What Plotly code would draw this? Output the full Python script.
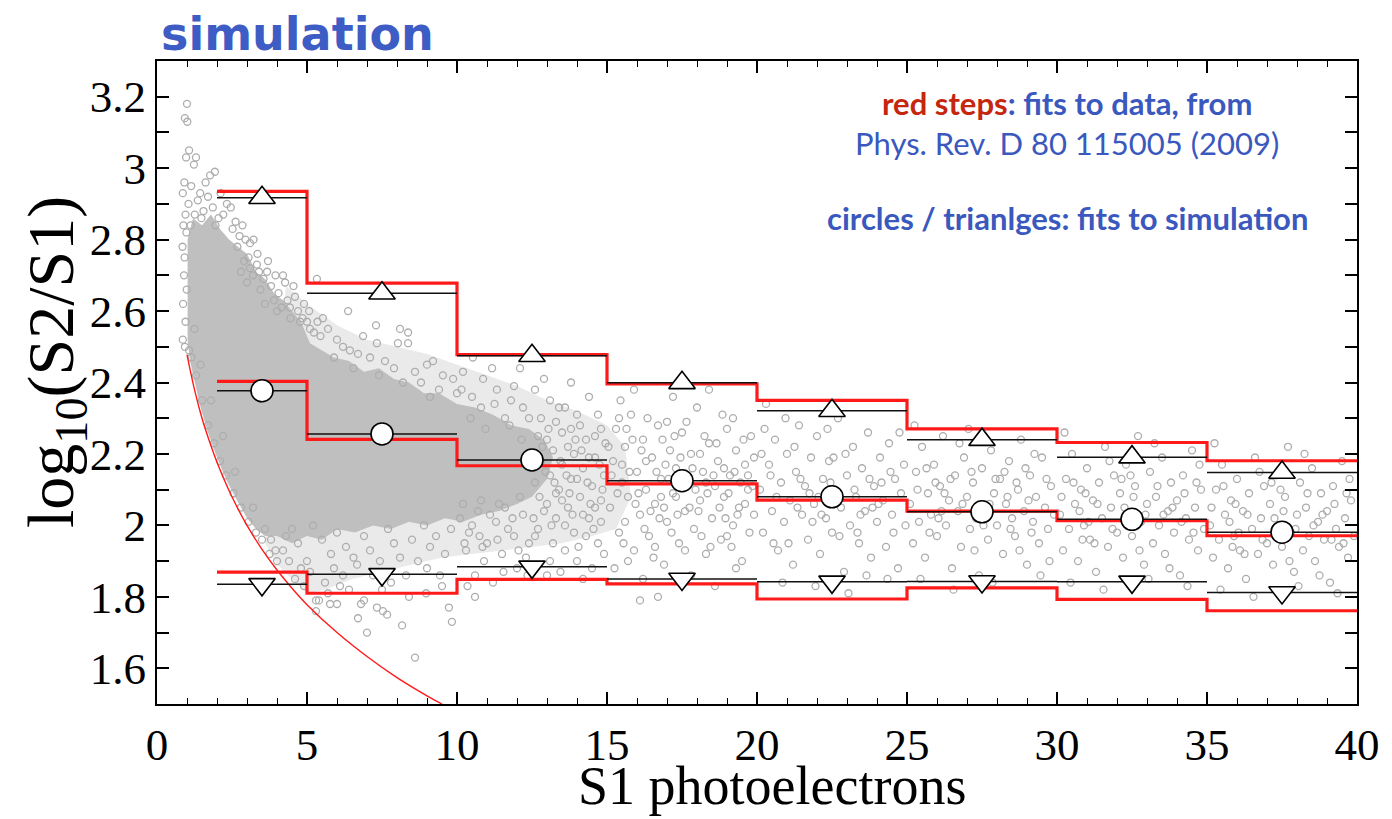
import plotly.graph_objects as go

# ---------------------------------------------------------------- data
BIN_EDGES = [2, 5, 10, 15, 20, 25, 30, 35, 40]
BIN_CENTERS = [3.5, 7.5, 12.5, 17.5, 22.5, 27.5, 32.5, 37.5]

# red steps: band fits to measured data
data_upper = [2.935, 2.678, 2.478, 2.396, 2.350, 2.270, 2.232, 2.181]
data_mean = [2.403, 2.241, 2.167, 2.116, 2.071, 2.040, 2.013, 1.971]
data_lower = [1.869, 1.810, 1.849, 1.836, 1.794, 1.825, 1.793, 1.761]

# circles / triangles: band fits to the simulated events
sim_upper = [2.917, 2.650, 2.475, 2.399, 2.321, 2.240, 2.191, 2.148]
sim_mean = [2.377, 2.256, 2.183, 2.125, 2.080, 2.038, 2.017, 1.981]
sim_lower = [1.835, 1.863, 1.884, 1.850, 1.842, 1.843, 1.842, 1.812]

# S2 threshold curve
thr_s1 = [1.0, 1.25, 1.5, 1.75, 2.0, 2.5, 3.0, 3.5, 4.0, 4.5, 5.0, 6.0, 7.0, 8.0, 9.0, 9.5]
thr_log = [2.478, 2.380, 2.300, 2.235, 2.177, 2.080, 2.000, 1.933, 1.875, 1.824,
           1.778, 1.700, 1.633, 1.574, 1.523, 1.500]

# outline of the saturated core of the simulated event cloud
core_s1 = [1.02, 1.2, 1.5, 1.8, 2.1, 2.4, 2.7, 3.0, 3.3, 3.6, 3.9, 4.2, 4.5, 4.8, 5.1,
           5.5, 5.9, 6.4, 6.9, 7.4, 7.9, 8.4, 8.9, 9.4, 10.0, 10.6, 11.2, 11.8, 12.4,
           12.9, 13.2, 13.0, 12.5, 12.0, 11.4, 10.8, 10.2, 9.6, 9.0, 8.4, 7.8, 7.2, 6.6,
           6.0, 5.5, 5.0, 4.5, 4.0, 3.6, 3.3, 3.0, 2.6, 2.3, 2.0, 1.7, 1.45, 1.25, 1.1,
           1.02]
core_log = [2.80, 2.86, 2.84, 2.87, 2.83, 2.80, 2.78, 2.76, 2.71, 2.69, 2.65, 2.63, 2.60,
            2.57, 2.51, 2.49, 2.47, 2.46, 2.43, 2.44, 2.41, 2.40, 2.37, 2.37, 2.34, 2.33,
            2.31, 2.28, 2.27, 2.24, 2.19, 2.13, 2.08, 2.06, 2.04, 2.03, 2.01, 2.02, 2.00,
            2.01, 1.99, 2.00, 1.98, 1.99, 1.96, 1.97, 1.95, 1.97, 1.97, 1.99, 2.02, 2.08,
            2.13, 2.19, 2.26, 2.33, 2.40, 2.46, 2.52]

# outline of the looser halo around the core
halo_s1 = [3.6, 4.0, 4.5, 5.0, 5.6, 6.5, 7.5, 8.5, 9.5, 10.5, 11.5, 12.5, 13.5, 14.5,
           15.3, 15.8, 15.6, 15.0, 14.0, 13.0, 12.0, 11.0, 10.0, 9.0, 8.0, 7.0, 6.0, 5.0,
           4.3]
halo_log = [1.95, 1.89, 1.85, 1.81, 1.82, 1.85, 1.87, 1.89, 1.91, 1.92, 1.93, 1.94, 1.95,
            1.97, 1.99, 2.08, 2.22, 2.28, 2.32, 2.35, 2.39, 2.42, 2.45, 2.48, 2.50, 2.52,
            2.56, 2.62, 2.67]

# individual simulated events (S1, log10(S2/S1))
cloud_top = [
    (0.93, 3.14), (1.00, 3.18), (1.01, 3.13), (1.07, 3.05), (0.97, 3.03), (1.30, 3.03),
    (1.23, 3.01), (1.93, 2.99), (1.77, 2.98), (0.86, 2.93), (0.91, 2.96), (1.14, 2.95),
    (1.44, 2.93), (1.62, 2.96), (1.05, 2.90), (0.95, 2.87), (1.36, 2.91), (1.70, 2.92),
    (2.12, 2.93), (1.86, 2.89), (2.33, 2.90), (1.26, 2.87), (0.88, 2.84), (1.55, 2.88),
    (2.21, 2.87), (2.46, 2.89), (2.62, 2.85), (2.75, 2.81), (2.95, 2.80), (3.10, 2.79),
    (3.22, 2.80), (2.85, 2.84), (2.05, 2.86), (0.85, 2.78), (0.90, 2.70), (0.87, 2.62),
    (0.95, 2.57), (0.92, 2.75), (0.99, 2.66), (0.86, 2.52), (0.93, 2.50), (1.07, 2.49),
    (0.98, 2.82), (1.12, 2.84), (1.48, 2.86), (1.95, 2.84), (2.52, 2.83), (2.68, 2.78),
    (3.35, 2.76), (3.05, 2.75),
]
cloud_edge = [
    (3.33, 2.73), (3.10, 2.72), (3.67, 2.71), (4.20, 2.70), (4.27, 2.68), (3.90, 2.63),
    (4.43, 2.61), (4.90, 2.62), (5.07, 2.60), (4.77, 2.57), (5.10, 2.55), (5.23, 2.54),
    (3.55, 2.69), (3.80, 2.67), (4.05, 2.65), (4.60, 2.64), (3.45, 2.66), (4.35, 2.63),
    (4.70, 2.60), (5.35, 2.57), (3.95, 2.70), (4.55, 2.67), (3.70, 2.74), (3.20, 2.70),
    (4.15, 2.61), (4.85, 2.58), (5.45, 2.53), (5.00, 2.57), (4.45, 2.58), (3.60, 2.62),
    (2.90, 2.74), (3.00, 2.68), (2.80, 2.71), (3.40, 2.71), (4.00, 2.60),
    (1.15, 2.47), (1.30, 2.42), (1.50, 2.35), (1.70, 2.28), (1.90, 2.23), (2.10, 2.18),
    (2.30, 2.14), (2.55, 2.09), (2.80, 2.05), (3.05, 2.01), (3.30, 1.98), (3.50, 1.96),
    (3.75, 1.92), (4.00, 1.90), (1.25, 2.55), (1.45, 2.45), (1.80, 2.35), (2.20, 2.25),
    (2.60, 2.15), (3.20, 2.05),
]
cloud_upper = [
    (5.33, 2.69), (6.37, 2.60), (5.53, 2.58), (7.30, 2.56), (8.10, 2.55), (8.37, 2.54),
    (8.03, 2.51), (8.37, 2.51), (6.87, 2.53), (6.00, 2.52), (6.43, 2.49), (7.33, 2.51),
    (9.20, 2.46), (9.00, 2.45), (9.53, 2.42), (10.53, 2.47), (11.17, 2.44), (9.87, 2.41),
    (10.20, 2.43), (10.87, 2.41), (11.33, 2.38), (5.70, 2.55), (6.20, 2.50), (6.70, 2.48),
    (7.10, 2.47), (7.60, 2.46), (7.90, 2.44), (8.60, 2.43), (8.80, 2.40), (9.40, 2.38),
    (10.00, 2.37), (10.50, 2.36), (11.80, 2.35), (12.20, 2.33), (12.60, 2.38), (13.10, 2.35),
    (12.90, 2.41), (13.60, 2.33), (5.90, 2.47), (6.55, 2.44), (7.40, 2.42), (8.20, 2.40),
    (9.10, 2.36), (11.60, 2.30), (12.40, 2.30), (13.30, 2.29), (14.00, 2.31), (14.40, 2.36),
    (14.80, 2.27), (13.80, 2.40), (12.10, 2.44), (11.90, 2.39), (10.80, 2.33),
]
cloud_lower = [
    (8.60, 1.63), (7.00, 1.70), (6.70, 1.74), (5.30, 1.76), (5.77, 1.78), (6.00, 1.78),
    (8.17, 1.72), (9.83, 1.73), (9.73, 1.77), (10.60, 1.80), (5.30, 1.79), (7.67, 1.75),
    (7.53, 1.76), (8.97, 1.81), (6.80, 1.78), (6.90, 1.79), (7.33, 1.77), (5.40, 1.79),
    (9.00, 1.88), (9.43, 1.86), (6.67, 1.89), (7.43, 1.90), (4.60, 1.85), (4.90, 1.83),
    (5.10, 1.87), (5.60, 1.84), (6.20, 1.86), (6.40, 1.82), (7.80, 1.84), (8.30, 1.86),
    (8.70, 1.90), (9.60, 1.92), (5.00, 1.90), (5.80, 1.92), (6.30, 1.94), (7.10, 1.93),
    (7.90, 1.95), (8.50, 1.96), (9.30, 1.97), (4.40, 1.90), (4.20, 1.93), (4.70, 1.95),
    (3.80, 1.96), (3.60, 1.99), (5.50, 1.96), (6.00, 1.98), (6.90, 1.97), (7.70, 1.99),
    (8.90, 2.00), (9.80, 1.99), (4.50, 1.99), (5.20, 2.00), (3.95, 1.93), (5.90, 1.88),
    (7.20, 1.86), (8.10, 1.91), (9.10, 1.94), (6.55, 1.91), (4.80, 1.88), (4.30, 1.97),
    (7.50, 1.82), (8.40, 1.80), (6.10, 1.83), (9.50, 1.83), (5.70, 1.81),
]
cloud_10_15 = [
    (10.1, 2.02), (10.4, 1.98), (10.7, 2.04), (11.0, 1.95), (11.3, 2.01), (11.6, 2.05),
    (11.9, 1.97), (12.2, 2.03), (10.3, 1.93), (10.9, 1.90), (11.5, 1.92), (12.0, 1.88),
    (10.6, 1.86), (11.2, 1.84), (12.4, 1.95), (10.2, 2.06), (10.8, 2.07), (11.4, 2.06),
    (12.1, 2.08), (10.5, 2.00), (11.7, 1.99), (11.1, 2.03), (12.3, 1.91), (13.0, 1.86),
    (12.7, 1.99), (12.6, 2.12), (12.8, 2.18), (12.7, 2.25), (13.0, 2.06), (13.1, 2.14),
    (13.2, 2.21), (13.3, 2.02), (13.4, 2.10), (13.5, 2.17), (13.5, 2.26), (13.7, 2.05),
    (13.8, 2.13), (13.9, 2.20), (13.9, 1.98), (14.1, 2.08), (14.2, 2.16), (14.3, 2.24),
    (14.4, 2.02), (14.5, 2.11), (14.6, 2.19), (14.7, 1.95), (14.8, 2.07), (14.9, 2.14),
    (14.95, 2.23), (13.6, 1.93), (14.0, 1.90), (14.5, 1.88), (13.2, 1.95), (12.9, 2.04),
    (13.6, 2.00), (14.3, 1.97), (14.8, 2.01), (12.8, 2.30), (13.4, 2.33), (14.1, 2.28),
    (14.7, 2.31), (13.0, 2.24), (13.8, 2.27), (14.4, 2.19), (13.3, 2.09), (14.0, 2.13),
    (14.6, 2.05), (12.6, 1.97), (13.1, 1.90), (14.2, 1.85), (14.9, 1.92), (13.7, 2.22),
    (14.2, 2.03), (13.5, 2.07), (12.75, 2.08), (14.6, 2.25),
    (10.15, 2.38), (10.45, 2.30), (10.95, 2.27), (11.25, 2.34), (11.75, 2.28), (12.15, 2.24),
    (12.45, 2.20), (13.05, 2.27), (13.45, 2.18), (13.95, 2.24), (14.35, 2.12), (14.75, 2.17),
    (14.15, 2.21), (13.65, 2.14), (13.25, 2.12), (12.95, 2.15), (12.85, 2.22), (13.75, 2.09),
    (14.45, 2.06), (14.85, 2.10), (10.25, 1.95), (10.75, 1.97), (11.35, 1.96), (11.85, 2.02),
    (12.55, 2.02), (13.15, 2.00), (13.85, 2.03), (14.55, 1.99), (12.35, 1.86), (11.55, 1.87),
    (10.35, 1.83), (13.45, 1.87), (14.05, 1.94), (12.05, 1.93), (10.85, 1.94),
]
cloud_15_20 = [
    (15.1, 2.05), (15.2, 2.18), (15.3, 2.27), (15.4, 1.98), (15.5, 2.12), (15.6, 2.22),
    (15.7, 2.08), (15.8, 2.31), (15.9, 1.93), (16.0, 2.15), (16.1, 2.03), (16.2, 2.24),
    (16.3, 2.10), (16.4, 1.97), (16.5, 2.19), (16.6, 2.06), (16.7, 2.28), (16.8, 2.13),
    (16.9, 1.89), (17.0, 2.01), (17.1, 2.21), (17.2, 2.09), (17.3, 2.16), (17.4, 1.95),
    (17.5, 2.26), (17.6, 2.04), (17.7, 2.12), (17.8, 2.20), (17.9, 1.99), (18.0, 2.33),
    (18.1, 2.07), (18.2, 2.15), (18.3, 1.92), (18.4, 2.23), (18.5, 2.02), (18.6, 2.11),
    (18.7, 2.18), (18.8, 1.96), (18.9, 2.08), (19.0, 2.27), (19.1, 2.14), (19.2, 2.00),
    (19.3, 2.21), (19.4, 2.05), (19.5, 1.90), (19.6, 2.17), (19.7, 2.10), (19.8, 2.25),
    (19.9, 2.03), (15.25, 1.88), (15.45, 2.35), (15.75, 2.15), (16.05, 2.09), (16.35, 2.30),
    (16.55, 1.91), (16.85, 2.24), (17.05, 2.13), (17.35, 2.03), (17.65, 2.29), (17.95, 2.10),
    (18.25, 2.25), (18.55, 2.14), (18.85, 2.31), (19.15, 1.94), (19.45, 2.12), (19.75, 1.98),
    (15.6, 2.01), (16.2, 1.85), (16.7, 1.80), (17.8, 1.86), (18.6, 1.83), (19.3, 1.88),
    (15.9, 2.38), (17.2, 2.36), (18.4, 2.38), (16.1, 1.79), (19.6, 2.06), (15.35, 2.09),
    (16.45, 2.04), (17.45, 2.19), (18.15, 1.97), (19.05, 2.09), (15.85, 2.24), (17.75, 2.05),
    (16.95, 2.17),
    (15.15, 2.14), (15.55, 1.95), (15.65, 2.27), (15.95, 2.06), (16.15, 2.21), (16.25, 1.99),
    (16.65, 2.15), (16.75, 2.02), (17.15, 1.98), (17.25, 2.25), (17.55, 2.11), (17.85, 2.16),
    (18.05, 2.04), (18.35, 2.09), (18.45, 1.94), (18.65, 2.23), (18.95, 2.02), (19.25, 2.15),
    (19.35, 2.03), (19.55, 2.24), (19.85, 2.11), (15.05, 2.22), (15.40, 2.30), (16.30, 2.18),
    (16.80, 2.08), (17.00, 2.29), (17.60, 1.93), (18.10, 2.20), (18.75, 2.05), (19.20, 2.30),
    (19.90, 2.19), (15.70, 1.90), (16.60, 1.94), (17.30, 2.08), (18.30, 2.12), (19.00, 1.97),
    (19.70, 2.14), (15.50, 2.17), (16.90, 2.05), (18.90, 2.16),
]
cloud_20_25 = [
    (20.1, 2.10), (20.2, 1.98), (20.3, 2.34), (20.4, 2.17), (20.5, 2.04), (20.6, 2.24),
    (20.7, 1.93), (20.8, 2.12), (20.9, 2.01), (21.0, 2.20), (21.1, 2.07), (21.2, 1.89),
    (21.3, 2.15), (21.4, 2.28), (21.5, 2.03), (21.6, 2.11), (21.7, 1.96), (21.8, 2.19),
    (21.9, 2.06), (22.0, 2.25), (22.1, 1.92), (22.2, 2.13), (22.3, 2.02), (22.4, 2.18),
    (22.5, 1.98), (22.6, 2.09), (22.7, 2.30), (22.8, 2.05), (22.9, 1.87), (23.0, 2.14),
    (23.1, 2.00), (23.2, 2.22), (23.3, 2.08), (23.4, 1.95), (23.5, 2.16), (23.6, 2.04),
    (23.7, 2.26), (23.8, 1.91), (23.9, 2.11), (24.0, 2.01), (24.1, 2.19), (24.2, 2.07),
    (24.3, 1.94), (24.4, 2.23), (24.5, 2.03), (24.6, 2.13), (24.7, 1.88), (24.8, 2.09),
    (24.9, 2.17), (20.25, 2.27), (20.65, 2.08), (21.05, 1.95), (21.45, 2.13), (21.85, 2.01),
    (22.35, 2.27), (22.75, 1.97), (23.25, 2.10), (23.65, 1.86), (24.15, 2.12), (24.55, 1.98),
    (20.85, 1.84), (21.95, 1.83), (23.05, 1.81), (24.35, 1.85), (20.45, 2.14), (22.55, 2.19),
    (23.85, 2.05), (21.35, 2.05), (24.75, 2.26), (22.05, 2.08), (20.95, 2.30), (23.45, 2.03),
    (20.15, 2.20), (20.55, 1.95), (21.25, 2.22), (21.75, 2.09), (22.15, 2.03), (22.45, 2.12),
    (22.95, 2.20), (23.35, 1.98), (23.75, 2.13), (24.05, 2.06), (24.45, 2.15), (24.95, 2.00),
]
cloud_25_30 = [
    (25.1, 2.06), (25.2, 1.95), (25.3, 2.15), (25.4, 2.01), (25.5, 2.22), (25.6, 1.91),
    (25.7, 2.09), (25.8, 2.03), (25.9, 2.17), (26.0, 1.97), (26.1, 2.11), (26.2, 2.25),
    (26.3, 2.00), (26.4, 2.07), (26.5, 1.88), (26.6, 2.14), (26.7, 2.04), (26.8, 1.94),
    (26.9, 2.19), (27.0, 2.08), (27.1, 1.99), (27.2, 2.12), (27.3, 2.02), (27.4, 1.86),
    (27.5, 2.16), (27.6, 2.05), (27.7, 1.96), (27.8, 2.21), (27.9, 2.09), (28.0, 2.00),
    (28.1, 2.13), (28.2, 1.92), (28.3, 2.06), (28.4, 2.18), (28.5, 2.02), (28.6, 1.97),
    (28.7, 2.10), (28.8, 2.24), (28.9, 2.04), (29.0, 1.89), (29.1, 2.14), (29.2, 2.01),
    (29.3, 2.08), (29.4, 1.95), (29.5, 2.19), (29.6, 2.05), (29.7, 1.99), (29.8, 2.11),
    (29.9, 2.03), (25.25, 2.28), (25.75, 1.98), (26.25, 2.09), (26.75, 2.23), (27.25, 1.93),
    (27.75, 2.06), (28.25, 2.15), (28.75, 1.93), (29.25, 2.20), (29.75, 1.90), (25.45, 1.85),
    (26.55, 1.82), (27.85, 1.84), (29.45, 1.86), (26.05, 2.02), (27.05, 2.27), (28.45, 1.99),
    (29.05, 2.07), (25.95, 2.12), (28.95, 2.16),
    (25.35, 2.10), (25.65, 2.16), (26.15, 2.04), (26.45, 2.13), (26.85, 2.06), (27.15, 2.15),
    (27.55, 2.00), (27.95, 2.13), (28.35, 2.08), (28.65, 2.12), (29.15, 1.98), (29.65, 2.13),
]
cloud_30_35 = [
    (30.1, 2.03), (30.2, 1.93), (30.3, 2.13), (30.4, 1.99), (30.5, 2.20), (30.6, 2.06),
    (30.7, 1.90), (30.8, 2.10), (30.9, 2.00), (31.0, 2.16), (31.1, 1.96), (31.2, 2.07),
    (31.3, 1.87), (31.4, 2.12), (31.5, 2.02), (31.6, 2.22), (31.7, 1.94), (31.8, 2.05),
    (31.9, 2.14), (32.0, 1.98), (32.1, 2.09), (32.2, 1.91), (32.3, 2.17), (32.4, 2.03),
    (32.5, 1.97), (32.6, 2.11), (32.7, 2.25), (32.8, 2.01), (32.9, 1.89), (33.0, 2.06),
    (33.1, 2.15), (33.2, 1.95), (33.3, 2.08), (33.4, 2.00), (33.5, 2.19), (33.6, 1.92),
    (33.7, 2.04), (33.8, 2.12), (33.9, 1.98), (34.0, 2.07), (34.1, 1.86), (34.2, 2.14),
    (34.3, 2.02), (34.4, 1.96), (34.5, 2.21), (34.6, 2.05), (34.7, 1.93), (34.8, 2.10),
    (34.9, 1.99), (30.25, 2.26), (30.75, 2.04), (31.25, 1.95), (31.75, 2.18), (32.25, 2.05),
    (32.75, 1.93), (33.25, 2.23), (33.75, 1.88), (34.25, 2.09), (34.75, 2.17), (30.45, 1.84),
    (31.55, 1.82), (33.05, 1.85), (34.35, 1.83), (30.95, 2.09), (32.45, 2.14), (33.55, 2.03),
    (31.05, 2.01), (34.55, 1.98),
    (30.15, 2.08), (30.55, 2.12), (30.85, 1.96), (31.35, 2.06), (31.85, 1.99), (32.15, 2.13),
    (32.55, 2.08), (32.95, 2.03), (33.35, 2.11), (33.85, 2.05), (34.15, 2.01), (34.65, 2.12),
]
cloud_35_40 = [
    (35.1, 2.00), (35.2, 1.91), (35.3, 2.10), (35.4, 1.96), (35.5, 2.17), (35.6, 2.03),
    (35.7, 1.88), (35.8, 2.07), (35.9, 1.97), (36.0, 2.13), (36.1, 1.93), (36.2, 2.04),
    (36.3, 1.85), (36.4, 2.09), (36.5, 1.99), (36.6, 2.19), (36.7, 1.92), (36.8, 2.02),
    (36.9, 2.11), (37.0, 1.95), (37.1, 2.06), (37.2, 1.89), (37.3, 2.14), (37.4, 2.00),
    (37.5, 1.94), (37.6, 2.08), (37.7, 2.22), (37.8, 1.98), (37.9, 1.87), (38.0, 2.03),
    (38.1, 2.12), (38.2, 1.93), (38.3, 2.05), (38.4, 1.97), (38.5, 2.16), (38.6, 1.90),
    (38.7, 2.01), (38.8, 2.09), (38.9, 1.96), (39.0, 2.04), (39.1, 1.84), (39.2, 2.11),
    (39.3, 1.99), (39.4, 1.94), (39.5, 2.18), (39.6, 2.02), (39.7, 1.91), (39.8, 2.07),
    (39.9, 1.97), (35.25, 2.23), (35.75, 2.01), (36.25, 1.92), (36.75, 2.15), (37.25, 2.02),
    (37.75, 1.90), (38.25, 2.20), (38.75, 1.86), (39.25, 2.06), (39.75, 2.13), (35.45, 1.82),
    (36.55, 1.80), (38.05, 1.83), (39.35, 1.81), (35.95, 2.06), (37.45, 2.10), (38.55, 2.00),
    (36.05, 1.98), (39.55, 1.95),
    (35.15, 2.05), (35.55, 2.11), (35.85, 1.94), (36.35, 2.03), (36.85, 1.96), (37.15, 2.12),
    (37.55, 2.04), (37.95, 1.99), (38.35, 2.09), (38.85, 2.03), (39.15, 1.96), (39.65, 2.09),
]

Y_TICKS = [1.6, 1.8, 2.0, 2.2, 2.4, 2.6, 2.8, 3.0, 3.2]
Y_TICK_TEXT = ["1.6", "1.8", "2", "2.2", "2.4", "2.6", "2.8", "3", "3.2"]
Y_MINOR = [1.7, 1.9, 2.1, 2.3, 2.5, 2.7, 2.9, 3.1]
X_TICKS = [0, 5, 10, 15, 20, 25, 30, 35, 40]

# ---------------------------------------------------------------- helpers
W, H = 1392, 819
PL, PR, PT, PB = 157, 1357, 61, 704


def paper(px, py):
    """pixel position -> paper coordinates"""
    return (px - PL) / (PR - PL), (PB - py) / (PB - PT)


def step_xy(values):
    return BIN_EDGES, list(values) + [values[-1]]


def segments_xy(values):
    xs, ys = [], []
    for i, v in enumerate(values):
        xs += [BIN_EDGES[i], BIN_EDGES[i + 1], None]
        ys += [v, v, None]
    return xs, ys


events = (cloud_top + cloud_edge + cloud_upper + cloud_lower + cloud_10_15 + cloud_15_20
          + cloud_20_25 + cloud_25_30 + cloud_30_35 + cloud_35_40)
ev_s1 = [p[0] for p in events]
ev_log = [p[1] for p in events]

RED = "#ff1a1a"
GRAY = "#adadad"

fig = go.Figure()

# simulated event cloud
fig.add_trace(go.Scatter(x=halo_s1, y=halo_log, mode="lines", fill="toself",
                         fillcolor="#eaeaea", line=dict(width=0), hoverinfo="skip"))
fig.add_trace(go.Scatter(x=core_s1, y=core_log, mode="lines", fill="toself",
                         fillcolor="#bfbfbf", line=dict(width=0), hoverinfo="skip"))
fig.add_trace(go.Scatter(x=ev_s1, y=ev_log, mode="markers",
                         marker=dict(symbol="circle-open", size=7, color=GRAY,
                                     line=dict(width=1.3))))

# threshold curve
fig.add_trace(go.Scatter(x=thr_s1, y=thr_log, mode="lines",
                         line=dict(color=RED, width=1.4, shape="spline")))

# data fits (red steps)
for vals in (data_upper, data_mean, data_lower):
    sx, sy = step_xy(vals)
    fig.add_trace(go.Scatter(x=sx, y=sy, mode="lines",
                             line=dict(color=RED, width=3.2, shape="hv")))

# simulation fits (black segments + markers)
for vals, sym, size in ((sim_upper, "triangle-up", 23), (sim_mean, "circle", 22),
                        (sim_lower, "triangle-down", 23)):
    gx, gy = segments_xy(vals)
    fig.add_trace(go.Scatter(x=gx, y=gy, mode="lines",
                             line=dict(color="#111111", width=1.5)))
    fig.add_trace(go.Scatter(x=BIN_CENTERS, y=vals, mode="markers",
                             marker=dict(symbol=sym, size=size, color="white",
                                         line=dict(color="black", width=1.6))))

# ---------------------------------------------------------------- annotations
BLUE = "#3a58bd"
annots = []
tx, ty = paper(297, 34)
annots.append(dict(text="<b>simulation</b>", x=tx, y=ty, xref="paper", yref="paper",
                   xanchor="center", yanchor="middle", showarrow=False,
                   font=dict(family="DejaVu Sans", size=46, color="#3d5cc4")))
tx, ty = paper(1067, 103)
annots.append(dict(text="<b><span style='color:#c4260e'>red steps</span>: fits to data, from</b>",
                   x=tx, y=ty, xref="paper", yref="paper", xanchor="center",
                   yanchor="middle", showarrow=False,
                   font=dict(family="Lato", size=31, color=BLUE)))
tx, ty = paper(1067, 143)
annots.append(dict(text="Phys. Rev. D 80 115005 (2009)", x=tx, y=ty, xref="paper",
                   yref="paper", xanchor="center", yanchor="middle", showarrow=False,
                   font=dict(family="Lato", size=31, color=BLUE)))
tx, ty = paper(1067, 218)
annots.append(dict(text="<b>circles / trianlges: fits to simulation</b>", x=tx, y=ty,
                   xref="paper", yref="paper", xanchor="center", yanchor="middle",
                   showarrow=False, font=dict(family="Lato", size=31, color=BLUE)))
tx, ty = paper(772, 786)
annots.append(dict(text="S1 photoelectrons", x=tx, y=ty, xref="paper", yref="paper",
                   xanchor="center", yanchor="middle", showarrow=False,
                   font=dict(family="Liberation Serif", size=54, color="black")))
tx, ty = paper(55, 362)
annots.append(dict(text="log<sub>10</sub>(S2/S1)", x=tx, y=ty, xref="paper", yref="paper",
                   xanchor="center", yanchor="middle", showarrow=False, textangle=-90,
                   font=dict(family="Liberation Serif", size=66, color="black")))

axis_common = dict(showline=True, linewidth=2, linecolor="black", mirror="allticks",
                   ticks="inside", tickcolor="black", showgrid=False, zeroline=False,
                   tickfont=dict(family="Liberation Serif", size=45, color="black"))

fig.update_layout(
    width=W, height=H,
    margin=dict(l=PL, r=W - PR, t=PT, b=H - PB),
    paper_bgcolor="white", plot_bgcolor="white",
    showlegend=False,
    annotations=annots,
    xaxis=dict(range=[0, 40], tickvals=X_TICKS, ticklen=12, tickwidth=1.6,
               minor=dict(dtick=1, tick0=0, ticklen=6, tickwidth=1.2, ticks="inside",
                          tickcolor="black"),
               **axis_common),
    yaxis=dict(range=[1.5, 3.3], tickvals=Y_TICKS, ticktext=Y_TICK_TEXT, ticklen=12,
               tickwidth=1.6,
               minor=dict(tickvals=Y_MINOR, ticklen=12, tickwidth=1.6, ticks="inside",
                          tickcolor="black"),
               **axis_common),
)

fig.write_html("out.html")
